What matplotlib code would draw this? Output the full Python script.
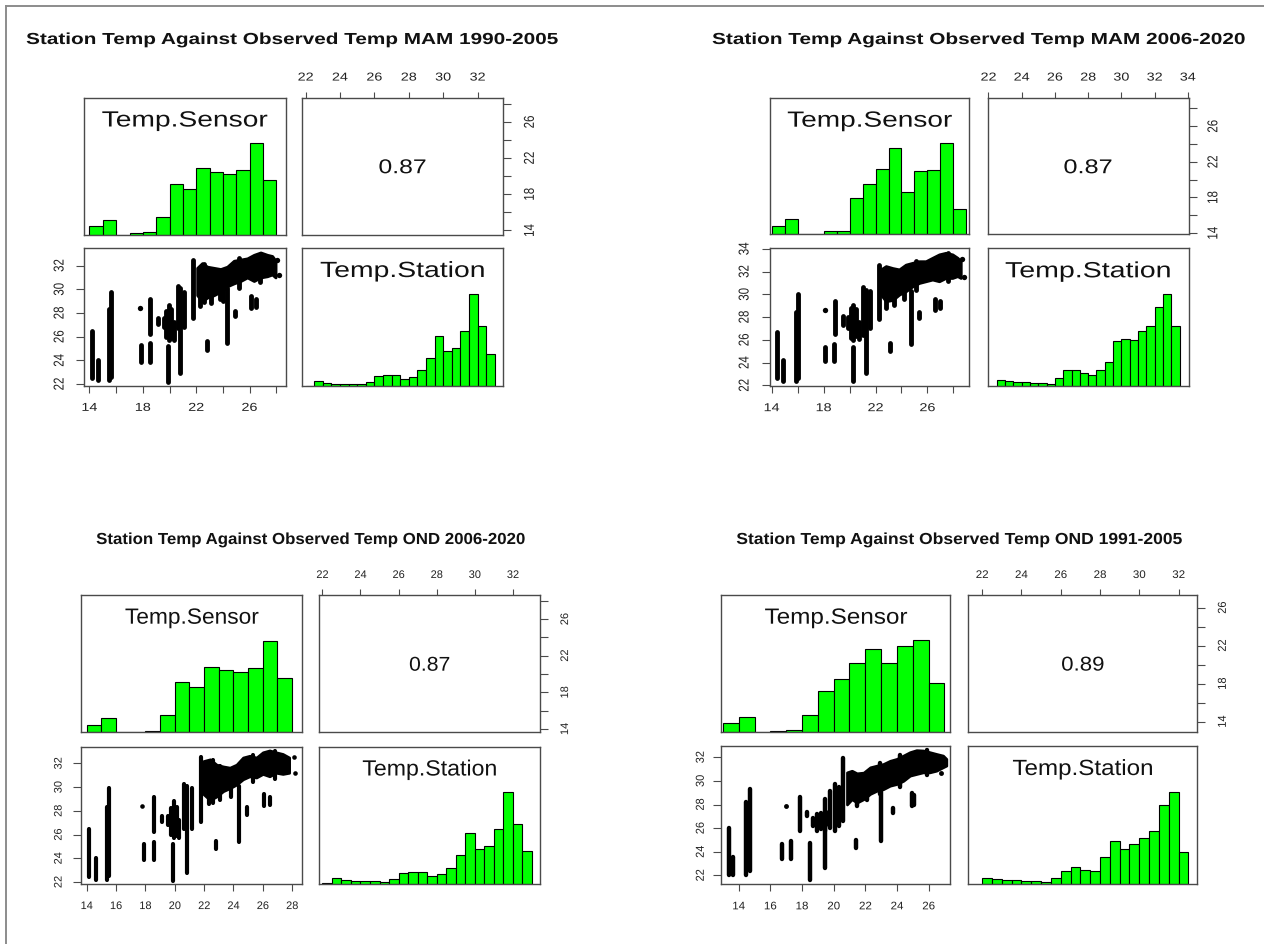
import matplotlib
matplotlib.use("Agg")
import matplotlib.pyplot as plt
from matplotlib.patheffects import AbstractPathEffect
from matplotlib.transforms import Affine2D
from matplotlib.lines import Line2D

plt.rcParams['font.family'] = ['Liberation Sans', 'DejaVu Sans']

# ------------------------------------------------------------------ DATA
titles = ["Station Temp Against Observed Temp MAM 1990-2005",
          "Station Temp Against Observed Temp MAM 2006-2020",
          "Station Temp Against Observed Temp OND 2006-2020",
          "Station Temp Against Observed Temp OND 1991-2005"]
variables = ["Temp.Sensor", "Temp.Station"]
correlations = ["0.87", "0.87", "0.87", "0.89"]

sensor_bin_width = 1.0
station_bin_width = 0.5

# histogram heights (% of the tallest bar)
p1_sensor_first_break = 14
p1_sensor_counts = [9.5, 15.6, 0, 1.5, 2.5, 19.6, 55.6, 49.8, 72.4, 68.0, 66.2, 70.9, 100, 59.3]
p1_station_first_break = 22.0
p1_station_counts = [0.7, 6.2, 3.3, 2.6, 2.6, 2.2, 2.2, 5.1, 11.8, 12.9, 12.9, 8.5, 9.9, 17.6,
                     31.2, 54.4, 38.6, 41.5, 60.0, 100, 65.4, 34.9]

p2_sensor_first_break = 14
p2_sensor_counts = [9.5, 16.4, 0, 0, 3.6, 3.6, 40.0, 55.0, 71.3, 94.9, 46.9, 69.8, 70.5, 100, 27.3]
p2_station_first_break = 22.5
p2_station_counts = [7.0, 5.9, 4.4, 4.0, 3.7, 3.7, 2.6, 8.5, 16.9, 16.9, 14.3, 12.1, 17.3, 25.7,
                     48.5, 50.7, 49.6, 60.0, 65.1, 86.4, 100, 65.1]

p3_sensor_first_break = 14
p3_sensor_counts = [8.5, 15.1, 0, 0.7, 1.8, 18.8, 55.1, 49.6, 71.7, 68.0, 66.2, 70.6, 100, 59.2]
p3_station_first_break = 22.0
p3_station_counts = [0.7, 7.0, 4.0, 3.3, 3.3, 2.9, 2.6, 5.9, 12.5, 13.6, 13.6, 9.2, 11.0, 18.0,
                     32.0, 55.1, 38.6, 41.9, 60.3, 100, 65.8, 35.7]

p4_sensor_first_break = 13
p4_sensor_counts = [9.6, 16.5, 0, 0.7, 1.8, 18.4, 44.9, 58.1, 75.4, 90.8, 75.4, 93.8, 100, 53.3]
p4_station_first_break = 22.0
p4_station_counts = [6.6, 5.1, 4.0, 3.7, 3.3, 2.9, 2.2, 5.9, 14.3, 18.4, 15.4, 14.0, 28.7, 46.7,
                     37.5, 43.0, 49.3, 57.0, 85.3, 100, 34.6]

# scatter: vertical runs of overlapping points (sensor x, station low, station high)
p1_run_x = [14.15, 14.65, 15.45, 15.6, 17.9, 18.5, 18.5, 19.1, 19.55, 19.75, 19.95, 20.15, 20.3,
            19.9, 20.6, 20.8, 21.05, 21.75, 22.3, 23.8, 22.8, 24.3, 24.9, 26.1, 26.45,
            22.6, 23.1, 24.0, 25.2, 26.8]
p1_run_lo = [22.5, 22.3, 22.3, 22.6, 23.9, 26.2, 23.9, 27.1, 26.8, 26.0, 25.7, 25.9, 25.7,
             22.2, 26.7, 22.9, 26.8, 27.6, 28.6, 29.2, 24.9, 25.5, 27.7, 28.4, 28.5,
             28.9, 28.8, 29.0, 30.1, 30.6]
p1_run_hi = [26.45, 24.05, 28.3, 29.8, 25.3, 29.2, 25.5, 27.6, 27.6, 28.2, 28.7, 28.3, 27.2,
             25.2, 30.3, 30.1, 29.8, 32.5, 31.8, 31.3, 25.6, 30.1, 28.2, 29.4, 29.2,
             32.1, 31.6, 31.6, 32.6, 32.9]
p1_blob_x = [22.08, 22.45, 22.83, 23.33, 23.83, 24.33, 24.83, 25.33, 25.83, 26.33, 26.83, 27.33, 27.7, 27.95]
p1_blob_hi = [31.8, 32.2, 31.9, 31.8, 31.7, 31.9, 32.4, 32.5, 32.6, 32.9, 33.1, 32.9, 32.8, 32.4]
p1_blob_lo = [29.5, 29.0, 29.3, 29.5, 29.8, 30.25, 30.5, 30.7, 31.0, 30.7, 31.0, 31.1, 31.25, 31.0]
p1_dot_x = [17.8, 28.07, 28.2]
p1_dot_y = [28.4, 32.5, 31.2]

p2_run_x = [14.41, 14.9, 15.85, 16.0, 18.13, 18.9, 18.82, 19.5, 19.9, 20.1, 20.3, 20.5, 20.75,
            20.3, 21.0, 21.26, 21.6, 22.23, 22.8, 24.2, 23.13, 24.77, 25.36, 26.55, 26.95,
            23.4, 25.1, 27.6]
p2_run_lo = [22.65, 22.4, 22.4, 22.6, 24.1, 26.5, 24.1, 27.3, 27.0, 26.2, 26.0, 26.3, 26.1,
             22.35, 26.45, 23.1, 27.0, 27.8, 28.8, 29.6, 25.0, 25.6, 27.9, 28.65, 28.8,
             29.1, 30.4, 31.2]
p2_run_hi = [26.7, 24.26, 28.4, 30.0, 25.4, 29.4, 25.6, 28.1, 28.0, 28.8, 29.1, 28.7, 27.6,
             25.4, 30.6, 30.4, 30.3, 32.6, 32.2, 31.6, 25.7, 30.3, 28.4, 29.6, 29.4,
             32.1, 32.9, 33.6]
p2_blob_x = [22.41, 22.8, 23.31, 23.82, 24.33, 24.85, 25.36, 25.87, 26.38, 26.9, 27.41, 27.92, 28.31, 28.56]
p2_blob_hi = [32.18, 32.47, 32.3, 32.18, 32.6, 32.76, 32.9, 32.9, 33.2, 33.5, 33.64, 33.5, 33.2, 32.9]
p2_blob_lo = [29.98, 29.4, 29.5, 29.98, 30.27, 30.7, 31.0, 31.15, 31.3, 31.15, 31.44, 31.44, 31.6, 31.44]
p2_dot_x = [18.13, 28.64, 28.82]
p2_dot_y = [28.66, 33.14, 31.5]

p3_run_x = [14.16, 14.65, 15.4, 15.55, 17.9, 18.6, 18.6, 19.1, 19.55, 19.75, 19.95, 20.15, 20.3,
            19.9, 20.6, 20.8, 21.15, 21.8, 22.3, 23.8, 22.8, 24.4, 24.95, 26.1, 26.5,
            22.6, 23.1, 25.3, 26.8]
p3_run_lo = [22.46, 22.2, 22.2, 22.5, 23.9, 26.2, 23.9, 27.1, 26.8, 26.0, 25.7, 25.9, 25.7,
             22.1, 26.5, 22.8, 26.5, 27.1, 28.6, 29.2, 24.8, 25.4, 27.65, 28.4, 28.5,
             28.7, 28.9, 30.4, 30.7]
p3_run_hi = [26.46, 24.0, 28.3, 29.9, 25.2, 29.2, 25.4, 27.6, 27.6, 28.2, 28.8, 28.3, 27.2,
             25.2, 30.3, 30.1, 29.9, 32.5, 31.8, 31.3, 25.5, 30.1, 28.3, 29.4, 29.2,
             32.3, 31.8, 32.7, 33.0]
p3_blob_x = [21.95, 22.4, 22.85, 23.3, 23.75, 24.2, 24.65, 25.1, 25.56, 26.0, 26.46, 26.9, 27.36, 27.8]
p3_blob_hi = [32.2, 32.35, 31.9, 31.75, 31.65, 31.9, 32.5, 32.65, 32.5, 32.94, 33.1, 32.94, 32.8, 32.5]
p3_blob_lo = [29.4, 28.9, 29.2, 29.65, 29.9, 30.2, 30.65, 30.9, 30.8, 31.1, 30.9, 31.2, 31.1, 31.2]
p3_dot_x = [17.8, 28.15, 28.2]
p3_dot_y = [28.4, 32.5, 31.2]

p4_run_x = [13.41, 13.62, 14.46, 14.71, 16.76, 17.28, 17.9, 18.3, 18.5, 18.7, 18.95, 19.2, 19.45,
            19.7, 19.48, 19.8, 20.1, 20.35, 20.6, 21.43, 23.0, 23.73, 24.95, 25.1, 21.5, 22.1,
            22.9, 24.2, 25.9]
p4_run_lo = [22.06, 22.06, 22.06, 22.34, 23.42, 23.42, 25.75, 27.0, 21.63, 26.2, 25.75, 25.9, 25.8,
             26.3, 22.6, 26.0, 25.75, 26.2, 26.6, 24.33, 24.9, 27.3, 27.9, 28.0, 27.9, 28.4,
             28.9, 29.5, 30.5]
p4_run_hi = [25.98, 23.6, 28.2, 29.3, 24.7, 24.9, 28.6, 27.4, 24.75, 26.9, 27.2, 27.3, 27.0,
             27.4, 28.45, 29.16, 29.7, 29.5, 31.94, 25.0, 30.44, 27.7, 29.0, 28.8, 29.5, 29.2,
             31.5, 32.2, 32.6]
p4_blob_x = [20.84, 21.15, 21.47, 21.89, 22.31, 22.72, 23.14, 23.56, 23.98, 24.4, 24.82, 25.23,
             25.65, 26.07, 26.49, 26.91, 27.12]
p4_blob_hi = [30.72, 30.86, 30.64, 30.7, 31.15, 31.29, 31.43, 31.7, 31.86, 32.14, 32.43, 32.6,
              32.57, 32.43, 32.28, 32.14, 31.86]
p4_blob_lo = [28.0, 28.45, 28.16, 28.45, 28.9, 29.16, 29.3, 29.59, 29.73, 30.0, 30.44, 30.58,
              30.72, 30.72, 30.86, 31.15, 31.29]
p4_dot_x = [16.97, 26.8]
p4_dot_y = [27.9, 30.7]

# axis ticks (value lists) and which ones carry a label
p1_top_ticks, p1_top_labels = [22, 24, 26, 28, 30, 32], [22, 24, 26, 28, 30, 32]
p1_right_ticks, p1_right_labels = [14, 16, 18, 20, 22, 24, 26, 28], [14, 18, 22, 26]
p1_bottom_ticks, p1_bottom_labels = [14, 16, 18, 20, 22, 24, 26, 28], [14, 18, 22, 26]
p1_left_ticks, p1_left_labels = [22, 24, 26, 28, 30, 32], [22, 24, 26, 28, 30, 32]

p2_top_ticks, p2_top_labels = [22, 24, 26, 28, 30, 32, 34], [22, 24, 26, 28, 30, 32, 34]
p2_right_ticks, p2_right_labels = [14, 16, 18, 20, 22, 24, 26, 28], [14, 18, 22, 26]
p2_bottom_ticks, p2_bottom_labels = [14, 16, 18, 20, 22, 24, 26, 28], [14, 18, 22, 26]
p2_left_ticks, p2_left_labels = [22, 24, 26, 28, 30, 32, 34], [22, 24, 26, 28, 30, 32, 34]

p3_top_ticks, p3_top_labels = [22, 24, 26, 28, 30, 32], [22, 24, 26, 28, 30, 32]
p3_right_ticks, p3_right_labels = [14, 16, 18, 20, 22, 24, 26, 28], [14, 18, 22, 26]
p3_bottom_ticks, p3_bottom_labels = [14, 16, 18, 20, 22, 24, 26, 28], [14, 16, 18, 20, 22, 24, 26, 28]
p3_left_ticks, p3_left_labels = [22, 24, 26, 28, 30, 32], [22, 24, 26, 28, 30, 32]

p4_top_ticks, p4_top_labels = [22, 24, 26, 28, 30, 32], [22, 24, 26, 28, 30, 32]
p4_right_ticks, p4_right_labels = [14, 16, 18, 20, 22, 24, 26], [14, 18, 22, 26]
p4_bottom_ticks, p4_bottom_labels = [14, 16, 18, 20, 22, 24, 26], [14, 16, 18, 20, 22, 24, 26]
p4_left_ticks, p4_left_labels = [22, 24, 26, 28, 30, 32], [22, 24, 26, 28, 30, 32]

# ------------------------------------------------------------------ LAYOUT (pixels)
W, H = 1264, 944
LAYOUT = [
    dict(lx=(83.5, 285.5), rx=(302, 503), ty=(97.5, 234.5), by=(248, 386.5),
         slim=(13.55, 28.7), tlim=(21.79, 33.48), title_c=292.5, title_base=44, title_w=531,
         sx=1.25, fs=11.5, dist=dict(top=21.5, right=26, bottom=20.5, left=25.5),
         lab_w=(165, 163), corr_w=46, lw=3.5),
    dict(lx=(770, 969), rx=(987.5, 1188.5), ty=(97.7, 234.3), by=(248.3, 386),
         slim=(13.87, 29.2), tlim=(21.94, 34.04), title_c=979, title_base=44, title_w=532,
         sx=1.25, fs=11.5, dist=dict(top=21.7, right=24, bottom=21.3, left=27),
         lab_w=(164, 164), corr_w=47, lw=3.5),
    dict(lx=(81.3, 302), rx=(319.3, 540), ty=(594.7, 732.3), by=(746.5, 884),
         slim=(13.63, 28.67), tlim=(21.84, 33.42), title_c=311, title_base=544, title_w=428,
         sx=1.0, fs=11, dist=dict(top=21, right=24, bottom=21, left=24),
         lab_w=(133, 133), corr_w=39.4, lw=3.0),
    dict(lx=(721.3, 950.3), rx=(968.3, 1197.3), ty=(594.7, 732), by=(746, 883.7),
         slim=(12.9, 27.37), tlim=(21.3, 32.95), title_c=959.7, title_base=544, title_w=445,
         sx=1.05, fs=11, dist=dict(top=21, right=24.3, bottom=21.6, left=22),
         lab_w=(142, 139), corr_w=41.4, lw=3.2),
]

DATA = []
for i in range(1, 5):
    g = globals()
    DATA.append({k: g[f"p{i}_{k}"] for k in [
        "sensor_first_break", "sensor_counts", "station_first_break", "station_counts",
        "run_x", "run_lo", "run_hi", "blob_x", "blob_lo", "blob_hi", "dot_x", "dot_y",
        "top_ticks", "top_labels", "right_ticks", "right_labels",
        "bottom_ticks", "bottom_labels", "left_ticks", "left_labels"]})


class Stretch(AbstractPathEffect):
    """Horizontal widening of rendered text (the reference image is stretched)."""
    def __init__(self, sx=1.0, width=None):
        super().__init__()
        self._sx = sx
        self._width = width

    def draw_path(self, renderer, gc, tpath, affine, rgbFace=None):
        ext = tpath.get_extents(affine)
        cx = 0.5 * (ext.x0 + ext.x1)
        sx = self._sx
        if self._width is not None and ext.width > 0:
            sx = self._width / ext.width
        t = affine + Affine2D().translate(-cx, 0).scale(sx, 1.0).translate(cx, 0)
        renderer.draw_path(gc, tpath, t, rgbFace)


fig = plt.figure(figsize=(W / 100, H / 100), dpi=100)
fig.patch.set_facecolor("white")

BOX = "#4a4a4a"
TXT = "#222222"
GREEN = "#00ff00"


def px_axes(xr, yr):
    x0, x1 = xr
    y0, y1 = yr
    ax = fig.add_axes([x0 / W, 1 - y1 / H, (x1 - x0) / W, (y1 - y0) / H])
    for s in ax.spines.values():
        s.set_color(BOX)
        s.set_linewidth(1.0)
    return ax


def no_ticks(ax):
    ax.set_xticks([])
    ax.set_yticks([])


def set_ticks(ax, side, ticks, shown, L):
    fs = L["fs"]
    dist = L["dist"][side]
    tl = 6.5 if side in ("top", "bottom") else 8.0
    c = {"bottom": 0.36, "top": 0.57, "left": 0.57, "right": 0.36}[side] * fs
    pad = max(dist - tl - c, 0)
    labels = [str(t) if t in shown else "" for t in ticks]
    if side in ("top", "bottom"):
        ax.set_xticks(ticks, labels)
        if side == "top":
            ax.xaxis.tick_top()
        ax.tick_params(axis="x", direction="out", length=tl * 0.72, width=0.8, color=BOX,
                       pad=pad * 0.72, labelsize=fs * 0.72, labelcolor=TXT)
        labs = ax.xaxis.get_majorticklabels()
    else:
        ax.set_yticks(ticks, labels)
        if side == "right":
            ax.yaxis.tick_right()
        ax.tick_params(axis="y", direction="out", length=tl * 0.72, width=0.8, color=BOX,
                       pad=pad * 0.72, labelsize=fs * 0.72, labelcolor=TXT, labelrotation=90)
        labs = ax.yaxis.get_majorticklabels()
        for lab in labs:
            lab.set_verticalalignment("center")
    for lab in labs:
        lab.set_path_effects([Stretch(sx=L["sx"])])


def hist_panel(ax, lim, first, width, counts):
    n = len(counts)
    edges = [first + k * width for k in range(n)]
    top = max(counts)
    ax.bar(edges, [c / top for c in counts], width=width, align="edge", color=GREEN,
           edgecolor="black", linewidth=0.8)
    ax.set_xlim(*lim)
    ax.set_ylim(0, 1.5)
    no_ticks(ax)


for L, D, title, corr in zip(LAYOUT, DATA, titles, correlations):
    # title
    fig.text(L["title_c"] / W, 1 - L["title_base"] / H, title, ha="center", va="baseline",
             fontsize=16 * 0.72, fontweight="bold", color="#111111",
             path_effects=[Stretch(width=L["title_w"])])

    ax_sh = px_axes(L["lx"], L["ty"])
    ax_co = px_axes(L["rx"], L["ty"])
    ax_sc = px_axes(L["lx"], L["by"])
    ax_th = px_axes(L["rx"], L["by"])

    # diagonal histograms
    hist_panel(ax_sh, L["slim"], D["sensor_first_break"], sensor_bin_width, D["sensor_counts"])
    hist_panel(ax_th, L["tlim"], D["station_first_break"], station_bin_width, D["station_counts"])

    # diagonal labels
    for (xr, yr), name, w in [((L["lx"], L["ty"]), variables[0], L["lab_w"][0]),
                              ((L["rx"], L["by"]), variables[1], L["lab_w"][1])]:
        cx = 0.5 * (xr[0] + xr[1])
        fig.text(cx / W, 1 - (yr[0] + 29) / H, name, ha="center", va="baseline",
                 fontsize=22 * 0.72, color="#111111", path_effects=[Stretch(width=w)])

    # correlation panel
    ax_co.set_xlim(*L["tlim"])
    ax_co.set_ylim(*L["slim"])
    cx = 0.5 * (L["rx"][0] + L["rx"][1])
    cy = 0.5 * (L["ty"][0] + L["ty"][1])
    fig.text(cx / W, 1 - (cy + 7.2) / H, corr, ha="center", va="baseline",
             fontsize=20 * 0.72, color="#111111", path_effects=[Stretch(width=L["corr_w"])])
    set_ticks(ax_co, "top", D["top_ticks"], D["top_labels"], L)
    set_ticks(ax_co, "right", D["right_ticks"], D["right_labels"], L)

    # scatter panel
    ax_sc.set_xlim(*L["slim"])
    ax_sc.set_ylim(*L["tlim"])
    lc = ax_sc.vlines(D["run_x"], D["run_lo"], D["run_hi"], colors="black", linewidths=L["lw"])
    lc.set_capstyle("round")
    ax_sc.fill_between(D["blob_x"], D["blob_lo"], D["blob_hi"], color="black",
                       linewidth=L["lw"] * 0.6, edgecolor="black", joinstyle="round")
    ax_sc.plot(D["dot_x"], D["dot_y"], "o", color="black", markersize=L["lw"] * 1.1,
               markeredgewidth=0)
    set_ticks(ax_sc, "bottom", D["bottom_ticks"], D["bottom_labels"], L)
    set_ticks(ax_sc, "left", D["left_ticks"], D["left_labels"], L)

# outer frame of the screenshot (top and left edges visible)
fig.add_artist(Line2D([5.5 / W, 5.5 / W], [0, 1 - 6 / H], color="#8c8c8c", linewidth=1.4))
fig.add_artist(Line2D([5.5 / W, 1], [1 - 6 / H, 1 - 6 / H], color="#8c8c8c", linewidth=1.4))

fig.savefig("out.png", dpi=100, facecolor="white")
